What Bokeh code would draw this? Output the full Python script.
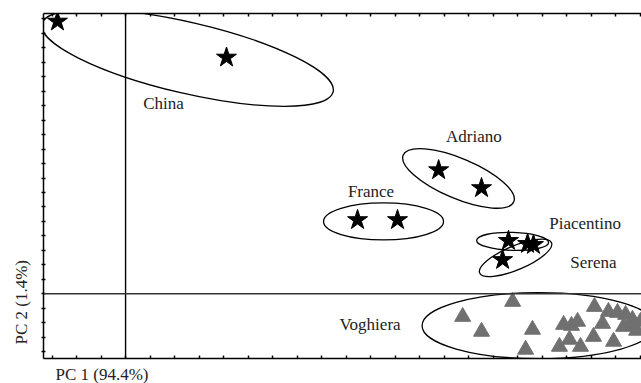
from bokeh.plotting import figure
from bokeh.models import Span, Label, LinearAxis, SingleIntervalTicker, Title
from bokeh.embed import file_html
from bokeh.resources import INLINE

# PCA scores (PC1, PC2) for each sample group
china_pc1 = [-2.78, 4.12]
china_pc2 = [18.83, 16.34]

adriano_pc1 = [12.78, 14.53]
adriano_pc2 = [8.55, 7.31]

france_pc1 = [9.47, 11.10]
france_pc2 = [5.10, 5.10]

piacentino_pc1 = [15.63, 16.41]
piacentino_pc2 = [3.66, 3.45]

serena_pc1 = [15.39, 16.65]
serena_pc2 = [2.34, 3.38]

voghiera_pc1 = [13.76, 14.53, 15.80, 16.61, 16.33, 17.88, 18.20, 18.45, 17.71,
                18.12, 18.57, 19.14, 19.71, 20.08, 20.41, 20.69, 19.47, 19.10,
                19.92, 20.33, 20.73, 20.86, 21.02]
voghiera_pc2 = [-1.59, -2.62, -0.55, -2.48, -3.86, -2.14, -2.21, -1.93, -3.66,
                -3.17, -3.66, -0.90, -1.24, -1.31, -1.45, -1.79, -2.07, -2.97,
                -3.31, -2.28, -2.21, -2.55, -1.93]

# group ellipses: centre in score units
groups = ["China", "Adriano", "France", "Piacentino", "Serena", "Voghiera"]
ell_pc1 = [2.53, 13.59, 10.53, 15.80, 15.92, 16.86]
ell_pc2 = [16.31, 7.97, 5.00, 3.62, 2.48, -2.21]

# group label anchors in score units
label_pc1 = [1.55, 14.22, 10.02, 18.76, 19.10, 9.98]
label_pc2 = [13.17, 10.90, 7.10, 4.83, 2.14, -2.14]

axis_x_label = "PC 1 (94.4%)"
axis_y_label = "PC 2 (1.4%)"

FONT = "Liberation Serif"

p = figure(width=641, height=383,
           x_range=(-3.35, 21.06), y_range=(-4.48, 19.38),
           output_backend="svg", toolbar_location=None,
           x_axis_location=None, y_axis_location=None,
           min_border_left=43, min_border_right=0,
           min_border_top=13, min_border_bottom=24)
p.outline_line_color = None
p.grid.visible = False
p.background_fill_color = "white"
p.border_fill_color = "white"


def frame_axis(ticks_in, ticks_out):
    ax = LinearAxis(ticker=SingleIntervalTicker(interval=1))
    ax.major_label_text_color = None
    ax.major_label_text_font_size = "1px"
    ax.major_label_standoff = 0
    ax.minor_tick_line_color = None
    ax.major_tick_in = ticks_in
    ax.major_tick_out = ticks_out
    ax.major_tick_line_width = 1.5
    ax.axis_line_width = 1.5
    ax.axis_line_color = "black"
    ax.major_tick_line_color = "black"
    return ax


p.add_layout(frame_axis(2, 2), "left")
p.add_layout(frame_axis(3, 0), "below")
p.add_layout(frame_axis(3, 0), "above")

# axis titles, set near the origin end of each axis
p.add_layout(Title(text=axis_x_label, align="left", offset=12, standoff=0,
                   text_font=FONT, text_font_size="17px",
                   text_line_height=0.8,
                   text_font_style="normal", text_color="#222222"), "below")
p.add_layout(Title(text=axis_y_label, align="left", offset=14, standoff=18,
                   text_font=FONT, text_font_size="17px",
                   text_font_style="normal", text_color="#222222"), "left")

# zero lines
p.add_layout(Span(location=0, dimension="height", line_color="black", line_width=1.4))
p.add_layout(Span(location=0, dimension="width", line_color="#333333", line_width=1.6))

# group ellipses (axis lengths in pixels, tilt in radians)
ell_w = [299, 120, 120, 72, 78, 233]
ell_h = [71, 40, 37, 18, 24, 66]
ell_a = [-0.229, -0.40, 0.0, -0.03, 0.40, 0.0]
p.ellipse(x=ell_pc1, y=ell_pc2, width=ell_w, height=ell_h, angle=ell_a,
          width_units="screen", height_units="screen",
          fill_color=None, line_color="black", line_width=1.3)

# samples
star_x = china_pc1 + adriano_pc1 + france_pc1 + piacentino_pc1 + serena_pc1
star_y = china_pc2 + adriano_pc2 + france_pc2 + piacentino_pc2 + serena_pc2
p.scatter(star_x, star_y, marker="star", size=21, color="black")
p.scatter(voghiera_pc1, voghiera_pc2, marker="triangle", size=16,
          fill_color="#707070", line_color="#707070")

for name, lx, ly in zip(groups, label_pc1, label_pc2):
    p.add_layout(Label(x=lx, y=ly, text=name, text_font=FONT,
                       text_font_size="17px", text_color="#222222",
                       text_align="center", text_baseline="middle"))

open("out.html", "w").write(file_html(p, INLINE))
